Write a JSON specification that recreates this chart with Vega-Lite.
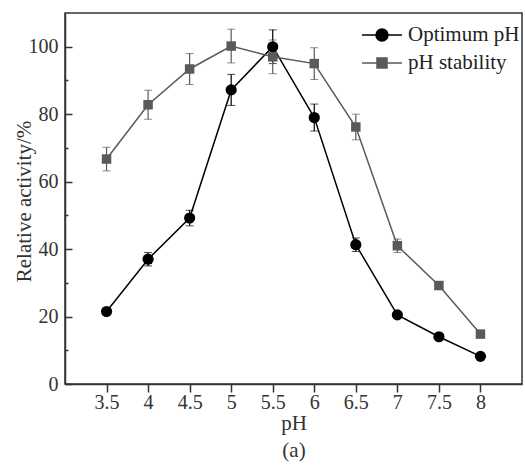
{
  "$schema": "https://vega.github.io/schema/vega-lite/v6.json",
  "width": 457,
  "height": 371,
  "autosize": {"type": "none"},
  "padding": {"left": 65, "top": 13, "right": 3, "bottom": 83},
  "background": "white",
  "config": {
    "font": "Liberation Serif",
    "view": {"stroke": "#333", "strokeWidth": 1.5},
    "axis": {
      "grid": false,
      "domainColor": "#333",
      "domainWidth": 1.5,
      "tickColor": "#333",
      "tickWidth": 1.5,
      "labelFont": "Liberation Serif",
      "labelFontSize": 20,
      "labelColor": "#333",
      "titleFont": "Liberation Serif",
      "titleFontSize": 21,
      "titleFontWeight": "normal",
      "titleColor": "#333"
    }
  },
  "data": {
    "values": [
      {"pH": 3.5, "series": "Optimum pH", "value": 21.5, "err": 0.8},
      {"pH": 4, "series": "Optimum pH", "value": 37, "err": 2},
      {"pH": 4.5, "series": "Optimum pH", "value": 49.2, "err": 2.3},
      {"pH": 5, "series": "Optimum pH", "value": 87.2, "err": 4.6},
      {"pH": 5.5, "series": "Optimum pH", "value": 100, "err": 5},
      {"pH": 6, "series": "Optimum pH", "value": 79, "err": 4},
      {"pH": 6.5, "series": "Optimum pH", "value": 41.3, "err": 2},
      {"pH": 7, "series": "Optimum pH", "value": 20.5, "err": 0.7},
      {"pH": 7.5, "series": "Optimum pH", "value": 14, "err": 0.7},
      {"pH": 8, "series": "Optimum pH", "value": 8.2, "err": 0.5},
      {"pH": 3.5, "series": "pH stability", "value": 66.7, "err": 3.5},
      {"pH": 4, "series": "pH stability", "value": 82.8, "err": 4.3},
      {"pH": 4.5, "series": "pH stability", "value": 93.4, "err": 4.6},
      {"pH": 5, "series": "pH stability", "value": 100.2, "err": 5},
      {"pH": 5.5, "series": "pH stability", "value": 97, "err": 5},
      {"pH": 6, "series": "pH stability", "value": 95, "err": 4.7},
      {"pH": 6.5, "series": "pH stability", "value": 76.2, "err": 3.8},
      {"pH": 7, "series": "pH stability", "value": 41, "err": 2},
      {"pH": 7.5, "series": "pH stability", "value": 29.2, "err": 1},
      {"pH": 8, "series": "pH stability", "value": 14.8, "err": 0.5}
    ]
  },
  "encoding": {
    "x": {
      "field": "pH",
      "type": "quantitative",
      "scale": {"domain": [3, 8.5], "nice": false, "zero": false},
      "axis": {
        "values": [3.5, 4, 4.5, 5, 5.5, 6, 6.5, 7, 7.5, 8],
        "format": "~g",
        "tickSize": 8,
        "labelPadding": 0,
        "title": ["pH", "(a)"],
        "titleLineHeight": 27,
        "titlePadding": 0
      }
    }
  },
  "resolve": {"axis": {"y": "independent"}},
  "layer": [
    {
      "mark": {"type": "line", "strokeWidth": 1.5},
      "encoding": {
        "y": {
          "field": "value",
          "type": "quantitative",
          "scale": {"domain": [0, 110], "nice": false},
          "axis": {
            "orient": "left",
            "values": [0, 20, 40, 60, 80, 100],
            "tickSize": -7,
            "labelPadding": 14,
            "title": "Relative activity/%",
            "titleX": -41,
            "titleY": 188,
            "titleBaseline": "middle",
            "titleAlign": "center",
            "titleAngle": 270
          }
        },
        "color": {
          "field": "series",
          "type": "nominal",
          "scale": {"domain": ["Optimum pH", "pH stability"], "range": ["#000000", "#5a5a5a"]},
          "legend": {
            "title": null,
            "orient": "none",
            "legendX": 306,
            "legendY": 11,
            "padding": 0,
            "symbolSize": 400,
            "symbolStrokeWidth": 1.5,
            "labelFont": "Liberation Serif",
            "labelFontSize": 21,
            "labelColor": "#222",
            "labelOffset": 15,
            "rowPadding": 7,
            "encode": {
              "symbols": {
                "update": {
                  "shape": {"signal": "datum.value == 'Optimum pH' ? 'M-2,0H2M0.6,0A0.6,0.6,0,1,1,-0.6,0A0.6,0.6,0,1,1,0.6,0Z' : 'M-2,0H2M-0.5,-0.5H0.5V0.5H-0.5Z'"},
                  "fill": {"scale": "color", "field": "value"},
                  "stroke": {"scale": "color", "field": "value"},
                  "strokeWidth": {"value": 1.5},
                  "size": {"value": 400}
                }
              }
            }
          }
        }
      }
    },
    {
      "mark": {"type": "errorbar", "ticks": {"size": 8}, "rule": {"strokeWidth": 1.2}},
      "encoding": {
        "y": {"field": "value", "type": "quantitative", "scale": {"domain": [0, 110], "nice": false}, "axis": null},
        "yError": {"field": "err"},
        "color": {"field": "series", "type": "nominal", "legend": null}
      }
    },
    {
      "transform": [{"filter": "datum.series == 'Optimum pH'"}],
      "mark": {"type": "point", "filled": true, "opacity": 1, "shape": "circle", "size": 125},
      "encoding": {
        "y": {"field": "value", "type": "quantitative", "axis": null},
        "color": {"field": "series", "type": "nominal", "legend": null}
      }
    },
    {
      "transform": [{"filter": "datum.series == 'pH stability'"}],
      "mark": {"type": "point", "filled": true, "opacity": 1, "shape": "square", "size": 90},
      "encoding": {
        "y": {"field": "value", "type": "quantitative", "axis": null},
        "color": {"field": "series", "type": "nominal", "legend": null}
      }
    },
    {
      "mark": {"type": "rule", "opacity": 0},
      "encoding": {
        "y": {
          "datum": 10,
          "type": "quantitative",
          "axis": {
            "orient": "left",
            "values": [10, 30, 50, 70, 90],
            "tickSize": -3,
            "labels": false,
            "domain": false,
            "title": null
          }
        }
      }
    }
  ]
}
